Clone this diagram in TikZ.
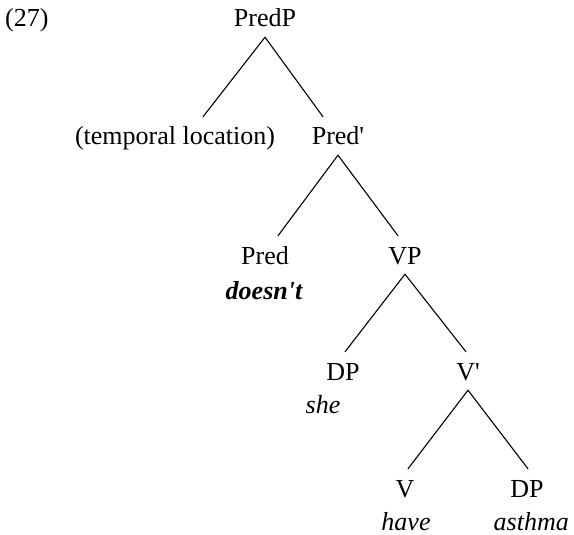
\documentclass[tikz,border=0pt]{standalone}
\usepackage{fontspec}
% \newfontfamily keeps the apostrophe straight (no TeX ligature mapping)
\newfontfamily\treefont{Liberation Serif}
\begin{document}
\begin{tikzpicture}[x=1pt,y=-1pt,
  every node/.style={font=\treefont\fontsize{26}{31}\selectfont},
  cat/.style={anchor=base,inner xsep=0pt,inner ysep=10pt,text height=18pt,text depth=0pt},
  word/.style={anchor=base,inner sep=0pt,font=\treefont\itshape\fontsize{26}{31}\selectfont},
  branch/.style={line width=1.1pt,line cap=round}]
\useasboundingbox (0,0) rectangle (574,535);

\node[anchor=base west,inner sep=0pt] (ex) at (5,27) {(27)};

% categories
\node[cat] (predp) at (265,27) {PredP};
\node[cat] (temp)  at (175,145) {(temporal location)};
\node[cat] (predb) at (338,145) {Pred'};
\node[cat] (pred)  at (265,264) {Pred};
\node[cat] (vp)    at (405,264) {VP};
\node[cat] (dp)    at (343,380) {DP};
\node[cat] (vb)    at (468,380) {V'};
\node[cat] (v)     at (405,497) {V};
\node[cat] (dpo)   at (527,497) {DP};

% lexical items
\node[word,font=\treefont\bfseries\itshape\fontsize{26}{31}\selectfont] (doesnt) at (264,299) {doesn't};
\node[word] (she)    at (323,413) {she};
\node[word] (have)   at (406,530) {have};
\node[word,anchor=base east] (asthma) at (569,530) {asthma};

% branches
\draw[branch] (predp.south) -- ([xshift=28pt]temp.north);
\draw[branch] (predp.south) -- ([xshift=-15pt]predb.north);
\draw[branch] (predb.south) -- ([xshift=13pt]pred.north);
\draw[branch] (predb.south) -- ([xshift=-7pt]vp.north);
\draw[branch] (vp.south) -- ([xshift=2pt]dp.north);
\draw[branch] (vp.south) -- ([xshift=-2pt]vb.north);
\draw[branch] (vb.south) -- ([xshift=3pt]v.north);
\draw[branch] (vb.south) -- ([xshift=1pt]dpo.north);
\end{tikzpicture}
\end{document}
